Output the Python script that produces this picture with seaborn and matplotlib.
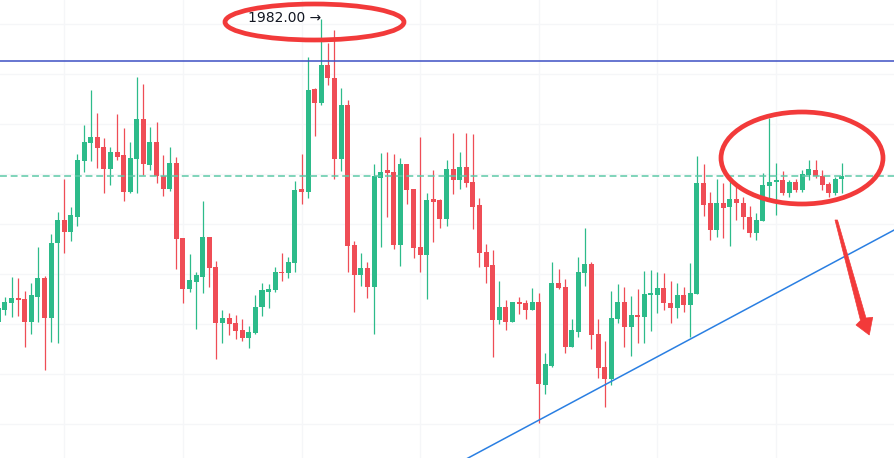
import numpy as np
import pandas as pd
import matplotlib
matplotlib.use("Agg")
import matplotlib.pyplot as plt
import seaborn as sns
from matplotlib.patches import Ellipse, Polygon

# candle values (price units)
opens = [1861.0, 1865.8, 1868.6, 1870.6, 1870.2, 1861.0, 1871.0, 1878.6, 1862.6, 1892.6,
         1901.8, 1897.0, 1903.0, 1925.4, 1932.6, 1935.0, 1931.0, 1922.2, 1929.0, 1927.8,
         1913.0, 1926.2, 1942.2, 1923.8, 1933.0, 1919.4, 1914.2, 1924.6, 1894.6, 1874.2,
         1877.0, 1879.0, 1895.0, 1883.0, 1860.6, 1862.6, 1860.6, 1857.8, 1854.6, 1856.6,
         1867.0, 1873.0, 1873.8, 1881.0, 1880.6, 1884.6, 1914.2, 1913.0, 1954.2, 1948.6,
         1963.8, 1958.6, 1926.2, 1947.8, 1891.8, 1879.8, 1882.6, 1875.0, 1918.6, 1921.8,
         1921.0, 1891.8, 1924.2, 1914.2, 1891.0, 1887.8, 1910.2, 1909.8, 1902.2, 1922.2,
         1917.8, 1923.0, 1917.0, 1907.8, 1889.0, 1883.8, 1861.8, 1867.0, 1861.0, 1869.0,
         1868.6, 1865.8, 1869.0, 1835.8, 1843.4, 1876.6, 1875.0, 1851.0, 1857.0, 1880.6,
         1884.2, 1856.2, 1843.0, 1838.2, 1862.2, 1869.0, 1859.0, 1863.8, 1863.0, 1871.8,
         1871.8, 1874.6, 1868.6, 1866.6, 1871.8, 1867.8, 1872.2, 1916.6, 1908.6, 1897.8,
         1908.6, 1907.0, 1910.2, 1908.6, 1903.0, 1896.6, 1901.4, 1915.4, 1917.0, 1917.8,
         1912.6, 1917.0, 1913.8, 1919.8, 1921.8, 1919.4, 1916.2, 1912.6, 1918.2]
closes = [1866.6, 1869.0, 1870.6, 1869.8, 1861.0, 1871.8, 1878.6, 1862.6, 1892.6, 1901.8,
          1897.0, 1903.8, 1925.8, 1933.0, 1935.0, 1930.6, 1922.2, 1929.0, 1927.0, 1913.0,
          1926.6, 1942.2, 1924.2, 1933.0, 1919.4, 1914.2, 1924.6, 1894.2, 1874.2, 1877.8,
          1879.8, 1895.0, 1882.6, 1860.6, 1862.6, 1860.2, 1857.4, 1854.6, 1857.0, 1867.0,
          1873.8, 1874.2, 1881.0, 1880.6, 1885.0, 1913.8, 1913.0, 1953.8, 1948.6, 1963.8,
          1958.6, 1926.2, 1947.8, 1891.4, 1879.8, 1882.6, 1875.0, 1919.4, 1921.0, 1920.6,
          1891.8, 1924.2, 1913.8, 1890.6, 1887.8, 1909.8, 1909.0, 1902.2, 1922.2, 1917.8,
          1923.0, 1916.6, 1907.0, 1888.6, 1883.0, 1861.8, 1867.0, 1861.0, 1869.0, 1868.2,
          1865.8, 1869.0, 1836.2, 1844.2, 1876.6, 1874.6, 1851.0, 1857.8, 1881.0, 1884.2,
          1855.8, 1842.6, 1838.2, 1862.6, 1869.0, 1859.0, 1863.8, 1863.0, 1872.2, 1872.6,
          1874.6, 1868.6, 1866.6, 1871.8, 1867.8, 1872.6, 1916.6, 1907.8, 1897.8, 1908.6,
          1906.6, 1910.2, 1908.6, 1903.0, 1896.6, 1901.8, 1915.8, 1917.0, 1917.8, 1912.6,
          1917.0, 1913.8, 1920.2, 1922.2, 1919.4, 1915.8, 1912.6, 1918.2, 1919.4]
highs = [1869.8, 1871.0, 1879.0, 1878.6, 1873.4, 1876.6, 1891.0, 1879.4, 1896.2, 1905.0,
         1918.2, 1907.0, 1928.2, 1939.8, 1953.8, 1944.6, 1934.6, 1931.0, 1944.2, 1938.6,
         1933.0, 1959.0, 1956.2, 1939.0, 1941.0, 1927.8, 1931.0, 1927.0, 1894.6, 1888.2,
         1881.0, 1909.4, 1895.0, 1885.4, 1865.8, 1864.6, 1863.8, 1862.2, 1859.4, 1871.8,
         1876.6, 1876.2, 1883.0, 1888.6, 1887.0, 1917.4, 1928.2, 1967.0, 1954.6, 1982.0,
         1972.6, 1977.8, 1954.6, 1949.8, 1893.4, 1888.6, 1885.0, 1924.2, 1928.6, 1929.0,
         1928.2, 1926.6, 1924.2, 1914.2, 1935.0, 1912.6, 1921.8, 1910.2, 1925.8, 1936.6,
         1929.0, 1936.6, 1936.2, 1910.6, 1892.2, 1889.8, 1877.4, 1869.8, 1869.0, 1871.0,
         1869.8, 1874.6, 1872.6, 1848.6, 1885.0, 1882.2, 1878.2, 1862.2, 1887.0, 1898.6,
         1885.0, 1862.2, 1853.4, 1873.4, 1876.2, 1875.0, 1871.4, 1874.2, 1881.4, 1881.8,
         1881.0, 1880.6, 1877.4, 1876.6, 1875.0, 1884.6, 1927.4, 1924.2, 1913.0, 1918.2,
         1916.6, 1917.8, 1915.8, 1911.0, 1907.4, 1904.6, 1920.6, 1942.6, 1924.6, 1921.4,
         1917.8, 1918.2, 1921.8, 1925.8, 1925.8, 1921.8, 1917.0, 1919.0, 1924.6]
lows = [1859.8, 1863.8, 1863.0, 1863.4, 1851.0, 1856.2, 1861.0, 1841.8, 1853.0, 1852.6,
        1888.6, 1893.4, 1899.4, 1921.0, 1925.4, 1922.6, 1912.6, 1915.8, 1925.8, 1909.4,
        1912.6, 1912.6, 1919.8, 1921.8, 1916.6, 1911.4, 1913.4, 1882.2, 1868.6, 1873.0,
        1858.2, 1872.6, 1875.0, 1846.2, 1852.6, 1855.8, 1854.2, 1853.4, 1850.6, 1856.2,
        1863.4, 1866.6, 1873.0, 1877.4, 1878.6, 1881.0, 1908.2, 1910.6, 1935.4, 1947.8,
        1955.8, 1918.2, 1921.4, 1881.0, 1865.0, 1875.4, 1870.6, 1856.2, 1891.0, 1903.0,
        1890.2, 1883.4, 1908.2, 1886.6, 1881.0, 1870.2, 1893.0, 1898.6, 1899.4, 1912.2,
        1914.2, 1915.0, 1898.2, 1883.0, 1876.6, 1847.0, 1860.2, 1857.8, 1861.0, 1864.2,
        1862.2, 1865.8, 1820.6, 1832.2, 1843.0, 1874.2, 1848.6, 1851.0, 1855.0, 1875.4,
        1850.2, 1838.6, 1827.0, 1835.8, 1860.6, 1851.0, 1847.4, 1852.6, 1852.6, 1857.4,
        1864.6, 1865.8, 1860.6, 1862.6, 1865.0, 1855.0, 1872.2, 1903.4, 1893.8, 1895.0,
        1894.6, 1891.4, 1901.8, 1898.2, 1895.0, 1893.8, 1901.4, 1909.8, 1903.8, 1911.8,
        1911.0, 1913.0, 1913.0, 1917.8, 1918.6, 1913.8, 1911.0, 1911.8, 1912.6]

high_label = "1982.00 →"
resistance = 1965.5          # solid blue horizontal
last_price = 1919.5          # dashed green horizontal
trend_x = [70, 136]          # rising support line (bar index)
trend_y = [1804.8, 1897.9]

UP = "#2DBB8A"
DOWN = "#EF4D56"
W, H = 894, 458

df = pd.DataFrame({"open": opens, "high": highs, "low": lows, "close": closes})
df["idx"] = np.arange(len(df))
df["up"] = df["close"] >= df["open"]
df["body"] = (df["close"] - df["open"]).abs().clip(lower=0.45)
df["bottom"] = df[["open", "close"]].min(axis=1)
df["color"] = np.where(df["up"], UP, DOWN)

sns.set_theme(style="white")
fig = plt.figure(figsize=(W / 100, H / 100), dpi=100)
ax = fig.add_axes([0, 0, 1, 1])

# pixel <-> data: x_px = -1.6 + 6.59*i, price = 1989.8 - 0.4*y_px
ax.set_xlim(1.6 / 6.59, (W + 1.6) / 6.59)
ax.set_ylim(1989.8 - 0.4 * H, 1989.8)

ax.set_xticks([10, 28, 46, 64, 82, 100, 118])
ax.set_yticks(np.arange(1820, 1990, 20))
ax.grid(True, color="#F5F6F8", linewidth=1.0)
ax.tick_params(left=False, bottom=False, labelleft=False, labelbottom=False)
for s in ax.spines.values():
    s.set_visible(False)

# wicks then bodies
ax.vlines(df["idx"], df["low"], df["high"], colors=df["color"], linewidth=0.9, zorder=2)
ax.bar(df["idx"], df["body"], bottom=df["bottom"], width=0.76,
       color=df["color"], linewidth=0, zorder=3)

ax.axhline(resistance, color="#3D4FC4", linewidth=1.1, zorder=4)
ax.axhline(last_price, color="#5CC9A7", linewidth=1.1, linestyle=(0, (4.5, 2.5)), zorder=4)
ax.plot(trend_x, trend_y, color="#2A7FE2", linewidth=1.1, zorder=4)


def px(x, y):
    return (x / W, 1 - y / H)


ax.text(*px(248, 18), high_label, transform=ax.transAxes, fontsize=10,
        color="#131722", va="center", ha="left", zorder=6)

ax.add_patch(Ellipse(px(314.5, 22), 179 / W, 36 / H, transform=ax.transAxes,
                     fill=False, edgecolor="#F23A3A", linewidth=3.4, zorder=7))
ax.add_patch(Ellipse(px(802, 158), 162 / W, 92 / H, transform=ax.transAxes,
                     fill=False, edgecolor="#F23A3A", linewidth=3.4, zorder=7))

arrow = [(835, 220), (837.5, 220), (866, 318), (872.7, 317.3), (869.3, 335),
         (856, 325), (860.5, 320.5)]
ax.add_patch(Polygon([px(x, y) for x, y in arrow], closed=True, transform=ax.transAxes,
                     facecolor="#F23A3A", edgecolor="#F23A3A", linewidth=0.5, zorder=7))

fig.savefig("out.png", dpi=100)
